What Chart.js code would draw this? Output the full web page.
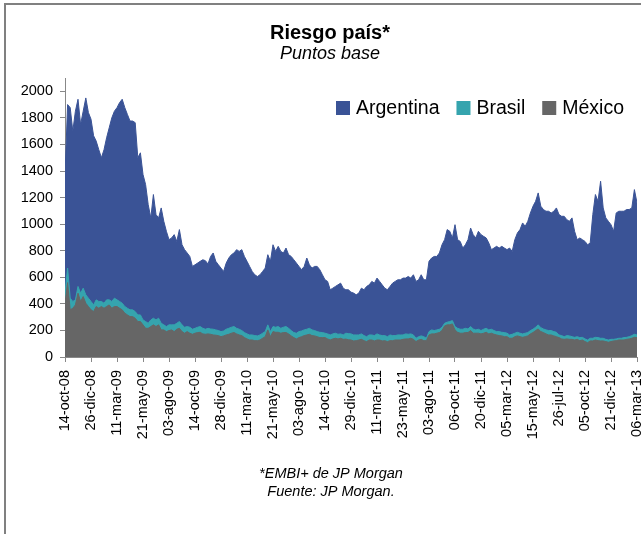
<!DOCTYPE html>
<html>
<head>
<meta charset="utf-8">
<script src="https://cdn.jsdelivr.net/npm/chart.js@4/dist/chart.umd.min.js"></script>
<style>
  body { margin: 0; background: #fff; }
  #frame {
    position: absolute; left: 4px; top: 3px; width: 650px; height: 540px;
    border-left: 2px solid #808080; border-top: 2px solid #808080;
    pointer-events: none;
  }
  #riesgo { position: absolute; left: 0; top: 0; }
</style>
</head>
<body>
<canvas id="riesgo" width="641" height="534"></canvas>
<div id="frame"></div>
<script>
// tick labels, one every 10 points
const tickLabels = [
  '14-oct-08', '26-dic-08', '11-mar-09', '21-may-09', '03-ago-09', '14-oct-09',
  '28-dic-09', '11-mar-10', '21-may-10', '03-ago-10', '14-oct-10', '29-dic-10',
  '11-mar-11', '23-may-11', '03-ago-11', '06-oct-11', '20-dic-11', '05-mar-12',
  '15-may-12', '26-jul-12', '05-oct-12', '21-dic-12', '06-mar-13'
];
const yTicks = [0, 200, 400, 600, 800, 1000, 1200, 1400, 1600, 1800, 2000];
const seriesNames = ['Argentina', 'Brasil', 'México'];

// EMBI+ spread, basis points
const argentina = [
  1370, 1900, 1877, 1700, 1850, 1940, 1750, 1850, 1950, 1840,
  1790, 1665, 1625, 1560, 1500, 1560, 1650, 1725, 1800, 1850,
  1877, 1915, 1940, 1877, 1826, 1776, 1776, 1764, 1500, 1537,
  1374, 1298, 1147, 1047, 1223, 1072, 1047, 1122, 1021, 946,
  883, 896, 921, 870, 959, 845, 808, 783, 757, 682,
  694, 707, 720, 732, 725, 700, 757, 783, 720, 694,
  669, 644, 707, 745, 770, 783, 808, 795, 808, 757,
  720, 682, 644, 619, 606, 619, 644, 669, 770, 720,
  845, 795, 833, 795, 783, 820, 770, 757, 732, 707,
  682, 657, 682, 745, 694, 669, 682, 682, 657, 619,
  581, 569, 506, 518, 531, 543, 556, 518, 506, 506,
  488, 481, 468, 481, 518, 506, 531, 543, 569, 556,
  594, 569, 543, 518, 506, 531, 556, 569, 581, 581,
  594, 594, 606, 594, 619, 569, 581, 619, 581, 581,
  720, 745, 757, 757, 783, 845, 883, 959, 946, 896,
  996, 883, 870, 820, 845, 883, 971, 921, 896, 946,
  921, 908, 896, 858, 808, 820, 833, 820, 833, 820,
  808, 820, 795, 883, 933, 959, 1009, 984, 1021, 1084,
  1135, 1172, 1235, 1135, 1110, 1097, 1097, 1084, 1097, 1122,
  1072, 1059, 1059, 1034, 1021, 1047, 946, 883, 896, 883,
  870, 845, 858, 1072, 1223, 1172, 1323, 1122, 1047, 1021,
  996, 946, 1084, 1097, 1097, 1097, 1110, 1110, 1122, 1260,
  1160
];
const brasil = [
  480, 670, 443, 418, 430, 531, 480, 518, 468, 443,
  418, 392, 430, 418, 418, 405, 430, 430, 418, 443,
  430, 418, 405, 380, 367, 355, 355, 342, 317, 317,
  279, 267, 254, 279, 292, 279, 292, 254, 242, 229,
  242, 242, 242, 254, 267, 242, 224, 229, 224, 209,
  216, 224, 229, 216, 209, 216, 211, 209, 204, 199,
  191, 196, 209, 216, 224, 229, 216, 209, 199, 184,
  174, 166, 166, 161, 159, 166, 179, 191, 242, 191,
  229, 224, 229, 216, 224, 229, 216, 199, 184, 179,
  191, 196, 204, 209, 216, 204, 199, 191, 186, 184,
  179, 174, 166, 174, 179, 171, 174, 166, 179, 176,
  174, 166, 166, 166, 174, 161, 153, 166, 166, 161,
  174, 166, 161, 161, 153, 166, 161, 161, 166, 166,
  166, 174, 171, 174, 166, 141, 153, 159, 153, 141,
  191, 204, 199, 204, 209, 224, 254, 262, 267, 274,
  229, 216, 209, 209, 216, 211, 229, 211, 204, 209,
  199, 209, 216, 204, 209, 199, 191, 191, 186, 184,
  179, 166, 171, 179, 186, 179, 174, 179, 184, 199,
  209, 224, 242, 221, 211, 204, 199, 199, 191, 186,
  166, 161, 153, 161, 159, 153, 148, 153, 146, 148,
  136, 128, 141, 141, 148, 146, 141, 141, 133, 128,
  133, 133, 136, 141, 141, 146, 148, 153, 161, 171,
  166
];
const mexico = [
  405, 560, 355, 367, 392, 480, 418, 455, 405, 380,
  355, 342, 380, 367, 380, 367, 380, 392, 367, 380,
  380, 367, 355, 330, 317, 304, 304, 292, 267, 267,
  242, 216, 216, 229, 242, 229, 242, 204, 204, 191,
  199, 204, 191, 209, 216, 191, 179, 191, 179, 171,
  179, 184, 186, 174, 171, 174, 171, 166, 164, 161,
  153, 159, 166, 171, 179, 184, 174, 166, 161, 146,
  136, 128, 128, 123, 123, 128, 141, 153, 204, 153,
  191, 186, 186, 179, 184, 184, 174, 159, 146, 136,
  146, 153, 161, 166, 171, 161, 159, 153, 146, 146,
  146, 136, 128, 136, 141, 136, 141, 133, 135, 130,
  128, 121, 123, 128, 133, 123, 116, 128, 128, 121,
  128, 128, 121, 123, 116, 123, 123, 128, 128, 128,
  133, 136, 136, 141, 133, 116, 128, 133, 123, 123,
  166, 174, 174, 179, 184, 199, 234, 242, 242, 249,
  204, 186, 179, 179, 184, 184, 199, 179, 179, 179,
  174, 179, 186, 174, 179, 171, 166, 161, 159, 153,
  153, 141, 141, 153, 159, 153, 148, 153, 159, 174,
  184, 199, 211, 191, 184, 174, 166, 166, 159, 153,
  146, 136, 133, 136, 133, 133, 128, 133, 123, 128,
  116, 108, 121, 121, 128, 123, 121, 121, 116, 111,
  116, 121, 123, 128, 128, 128, 133, 136, 141, 148,
  146
];
const colors = ['#3a5396', '#35a4ae', '#666666'];

const FONT = '"Liberation Sans", Arial, sans-serif';

function toPoints(values) {
  return values.map((v, i) => ({ x: i, y: v }));
}

// title, subtitle and the notes under the axis
const texts = {
  id: 'texts',
  afterDraw(chart) {
    const ctx = chart.ctx;
    ctx.save();
    ctx.fillStyle = '#000';
    ctx.textAlign = 'center';
    ctx.textBaseline = 'alphabetic';
    ctx.font = 'bold 20px ' + FONT;
    ctx.fillText('Riesgo país*', 330, 39);
    ctx.font = 'italic 18px ' + FONT;
    ctx.fillText('Puntos base', 330, 59);
    ctx.font = 'italic 14.5px ' + FONT;
    ctx.fillText('*EMBI+ de JP Morgan', 331, 478);
    ctx.fillText('Fuente: JP Morgan.', 331, 496);
    ctx.restore();
  }
};

// legend drawn inside the plot, top right
const insideLegend = {
  id: 'insideLegend',
  afterDraw(chart) {
    const ctx = chart.ctx;
    const y = 108;
    let x = 336;
    ctx.save();
    ctx.font = '19.5px ' + FONT;
    ctx.textBaseline = 'middle';
    seriesNames.forEach((name, i) => {
      ctx.fillStyle = colors[i];
      ctx.fillRect(x, y - 7, 14, 14);
      ctx.fillStyle = '#000';
      ctx.fillText(name, x + 20, y + 1);
      x += 20 + ctx.measureText(name).width + 17;
    });
    ctx.restore();
  }
};

// México first so it is painted on top, Argentina last (behind)
const datasets = [2, 1, 0].map((k) => ({
  label: seriesNames[k],
  data: toPoints([argentina, brasil, mexico][k]),
  backgroundColor: colors[k],
  borderColor: colors[k],
  borderWidth: 1,
  pointRadius: 0,
  tension: 0,
  fill: 'origin'
}));

new Chart(document.getElementById('riesgo'), {
  type: 'line',
  data: { datasets },
  options: {
    responsive: false,
    animation: false,
    layout: { padding: { left: 0, right: 4, top: 78, bottom: 0 } },
    plugins: {
      legend: { display: false },
      tooltip: { enabled: false }
    },
    scales: {
      x: {
        type: 'linear',
        min: 0,
        max: 220,
        afterFit(axis) {
          axis.height = 177;
          axis.paddingLeft = 0;
          axis.paddingRight = 0;
        },
        grid: { display: true, drawOnChartArea: false, tickLength: 5, color: '#888' },
        border: { display: true, color: '#888' },
        ticks: {
          stepSize: 10,
          autoSkip: false,
          maxRotation: 90,
          minRotation: 90,
          padding: 8,
          color: '#000',
          font: { family: FONT, size: 14.5 },
          callback: (v) => tickLabels[Math.round(v / 10)]
        }
      },
      y: {
        min: 0,
        max: 2100,
        afterBuildTicks(axis) {
          axis.ticks = yTicks.map((v) => ({ value: v }));
        },
        afterFit(axis) {
          axis.width = 65;
          axis.paddingTop = 0;
          axis.paddingBottom = 0;
        },
        grid: { display: true, drawOnChartArea: false, tickLength: 5, color: '#888' },
        border: { display: true, color: '#888' },
        ticks: {
          padding: 7,
          color: '#000',
          font: { family: FONT, size: 14.5 },
          callback: (v) => String(v)
        }
      }
    }
  },
  plugins: [insideLegend, texts]
});
</script>
</body>
</html>
